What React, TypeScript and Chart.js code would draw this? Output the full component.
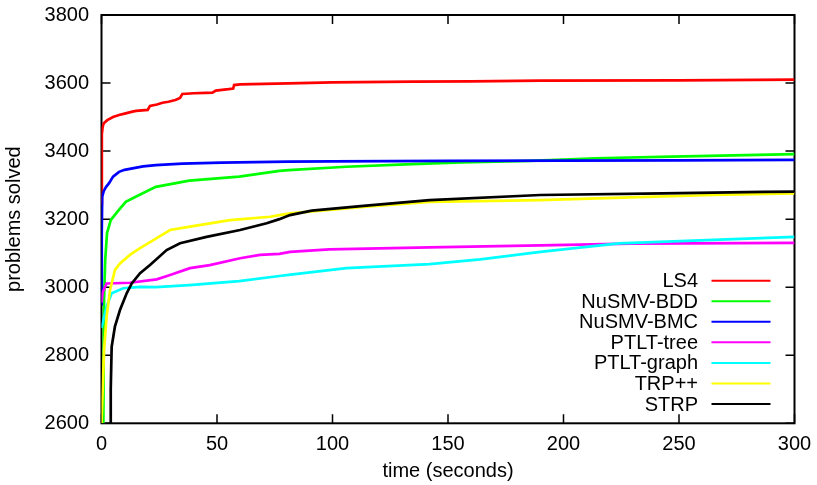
import { useEffect, useRef } from "react";
import { Chart, registerables } from "chart.js";

Chart.register(...registerables);

// ---- data (time in seconds, problems solved) ----
const seriesNames = ["LS4", "NuSMV-BDD", "NuSMV-BMC", "PTLT-tree", "PTLT-graph", "TRP++", "STRP"];
const seriesColors = ["#ff0000", "#00ff00", "#0000ff", "#ff00ff", "#00ffff", "#ffff00", "#000000"];

const xTicks = [0, 50, 100, 150, 200, 250, 300];
const yTicks = [2600, 2800, 3000, 3200, 3400, 3600, 3800];

const ls4Time = [0, 0.15, 0.5, 1, 2.5, 5, 7.6, 10, 13.4, 15, 20, 21, 24, 26.4, 29, 32, 34, 35, 40, 45, 48, 49.5, 55, 57, 57.4, 60, 81, 100, 135, 160, 190, 250, 300];
const ls4Solved = [3245, 3450, 3471, 3482, 3491, 3500, 3506, 3510, 3516, 3518, 3521, 3533, 3537, 3542, 3545, 3550, 3556, 3568, 3570, 3571, 3572, 3578, 3582, 3584, 3594, 3596, 3599, 3602, 3604, 3605, 3607, 3608, 3610];

const bddTime = [0.8, 1.1, 1.6, 2.4, 4, 6.9, 10.5, 14.8, 23.5, 38, 59.6, 77, 81, 106, 134.6, 156, 185.5, 214, 247, 300];
const bddSolved = [2600, 2962, 3080, 3159, 3197, 3222, 3251, 3266, 3295, 3313, 3325, 3342, 3344, 3354, 3362, 3367, 3371, 3379, 3384, 3391];

const bmcTime = [0, 0.1, 0.3, 1, 2, 3.2, 5, 7.6, 10, 13.4, 18, 23.5, 35, 52, 81, 100, 150, 200, 250, 300];
const bmcSolved = [2950, 3150, 3266, 3283, 3295, 3305, 3325, 3339, 3345, 3349, 3355, 3359, 3363, 3366, 3369, 3370, 3371, 3372, 3373, 3374];

const treeTime = [0, 0.5, 2.2, 12.3, 23.9, 29.7, 38.3, 46.9, 60, 68.6, 77, 81.6, 98.6, 142, 190, 229, 300];
const treeSolved = [2955, 2985, 3011, 3013, 3023, 3036, 3056, 3065, 3085, 3095, 3098, 3104, 3111, 3117, 3123, 3128, 3130];

const graphTime = [0, 2.2, 4.4, 9.4, 16.7, 23.5, 38, 59.6, 77, 81, 106, 142, 164, 190, 224, 265, 300];
const graphSolved = [2880, 2943, 2982, 2997, 3001, 3000, 3006, 3018, 3033, 3036, 3056, 3068, 3082, 3104, 3129, 3139, 3148];

const trpTime = [0, 1.1, 2.2, 3.7, 5.8, 8, 12.3, 16.7, 23.9, 29.7, 38.3, 55.6, 73, 77, 81.6, 114.6, 142, 190, 228.7, 264.6, 300];
const trpSolved = [2600, 2815, 2913, 2992, 3050, 3070, 3095, 3115, 3144, 3168, 3178, 3197, 3207, 3212, 3217, 3237, 3251, 3256, 3264, 3271, 3276];

const strpTime = [3.7, 4.0, 4.4, 5.8, 8, 10.9, 13.1, 16.7, 21, 28.2, 34, 45.5, 60, 71.5, 77, 81.6, 91, 114.6, 142, 190, 243, 286.5, 300];
const strpSolved = [2600, 2700, 2825, 2884, 2933, 2982, 3011, 3041, 3065, 3109, 3129, 3148, 3168, 3188, 3200, 3212, 3225, 3240, 3256, 3271, 3276, 3280, 3281];

const seriesTimes = [ls4Time, bddTime, bmcTime, treeTime, graphTime, trpTime, strpTime];
const seriesSolved = [ls4Solved, bddSolved, bmcSolved, treeSolved, graphSolved, trpSolved, strpSolved];

const FONT = "'Liberation Sans', Arial, Helvetica, sans-serif";
const FONT_SIZE = 20;
const TICK_LEN = 9;

const framePlugin = {
  id: "gnuFrame",
  beforeDatasetsDraw(chart: any) {
    const { ctx, chartArea } = chart;
    const { left, right, top, bottom } = chartArea;
    const xs = chart.scales.x;
    const ys = chart.scales.y;
    ctx.save();
    ctx.strokeStyle = "#000";
    ctx.lineWidth = 1.5;
    ctx.beginPath();
    for (const v of xTicks) {
      const px = xs.getPixelForValue(v);
      ctx.moveTo(px, bottom);
      ctx.lineTo(px, bottom - TICK_LEN);
      ctx.moveTo(px, top);
      ctx.lineTo(px, top + TICK_LEN);
    }
    for (const v of yTicks) {
      const py = ys.getPixelForValue(v);
      ctx.moveTo(left, py);
      ctx.lineTo(left + TICK_LEN, py);
      ctx.moveTo(right, py);
      ctx.lineTo(right - TICK_LEN, py);
    }
    ctx.stroke();
    ctx.lineWidth = 2;
    ctx.strokeRect(left, top, right - left, bottom - top);
    ctx.restore();
  },
};

const legendPlugin = {
  id: "gnuLegend",
  afterDatasetsDraw(chart: any) {
    const { ctx, chartArea } = chart;
    const { right, bottom } = chartArea;
    const textRight = right - 96.5;
    const lineX1 = right - 83;
    const lineX2 = right - 24;
    const row0 = bottom - 142.6;
    const step = 20.55;
    ctx.save();
    ctx.font = `${FONT_SIZE}px ${FONT}`;
    ctx.textAlign = "right";
    ctx.textBaseline = "alphabetic";
    chart.data.datasets.forEach((ds: any, i: number) => {
      const yy = row0 + i * step;
      ctx.fillStyle = "#000";
      ctx.fillText(ds.label, textRight, yy + 6.5);
      ctx.strokeStyle = ds.borderColor;
      ctx.lineWidth = 2;
      ctx.beginPath();
      ctx.moveTo(lineX1, yy);
      ctx.lineTo(lineX2, yy);
      ctx.stroke();
    });
    ctx.restore();
  },
};

const zeroPadding = (s: any) => {
  s.paddingTop = 0;
  s.paddingBottom = 0;
  s.paddingLeft = 0;
  s.paddingRight = 0;
};

export default function App() {
  const canvasRef = useRef<HTMLCanvasElement | null>(null);

  useEffect(() => {
    document.body.style.margin = "0";
    const canvas = canvasRef.current;
    if (!canvas) return;

    const datasets = seriesNames.map((name, i) => ({
      label: name,
      data: seriesTimes[i].map((t, j) => ({ x: t, y: seriesSolved[i][j] })),
      borderColor: seriesColors[i],
      backgroundColor: seriesColors[i],
      borderWidth: 2.7,
      pointRadius: 0,
      tension: 0,
      fill: false,
      order: seriesNames.length - 1 - i,
    }));

    const chart = new Chart(canvas, {
      type: "line",
      data: { datasets },
      plugins: [framePlugin, legendPlugin],
      options: {
        animation: false,
        responsive: false,
        maintainAspectRatio: false,
        devicePixelRatio: 1,
        layout: { padding: { top: 15, right: 22.5, left: 0, bottom: 0 } },
        font: { family: FONT, size: FONT_SIZE },
        plugins: {
          legend: { display: false },
          tooltip: { enabled: false },
          title: { display: false },
        },
        scales: {
          x: {
            type: "linear",
            min: 0,
            max: 300,
            grid: { display: false, drawTicks: false },
            border: { display: false },
            afterFit: (s: any) => {
              s.height = 61.7;
              zeroPadding(s);
            },
            afterBuildTicks: (s: any) => {
              s.ticks = xTicks.map((v) => ({ value: v }));
            },
            ticks: {
              color: "#000",
              padding: 9,
              maxRotation: 0,
              autoSkip: false,
              callback: (v: any) => String(v),
              font: { family: FONT, size: FONT_SIZE },
            },
            title: {
              display: true,
              text: "time (seconds)",
              color: "#000",
              padding: { top: 0, bottom: 2 },
              font: { family: FONT, size: FONT_SIZE },
            },
          },
          y: {
            type: "linear",
            min: 2600,
            max: 3800,
            grid: { display: false, drawTicks: false },
            border: { display: false },
            afterFit: (s: any) => {
              s.width = 101.5;
              zeroPadding(s);
            },
            afterBuildTicks: (s: any) => {
              s.ticks = yTicks.map((v) => ({ value: v }));
            },
            ticks: {
              color: "#000",
              padding: 12.4,
              autoSkip: false,
              callback: (v: any) => String(v),
              font: { family: FONT, size: FONT_SIZE },
            },
            title: {
              display: true,
              text: "problems solved",
              color: "#000",
              padding: { top: 2, bottom: 0 },
              font: { family: FONT, size: FONT_SIZE },
            },
          },
        },
      },
    } as any);

    return () => chart.destroy();
  }, []);

  return (
    <div style={{ width: 817, height: 485, background: "#fff" }}>
      <canvas ref={canvasRef} width={817} height={485} style={{ display: "block" }} />
    </div>
  );
}
